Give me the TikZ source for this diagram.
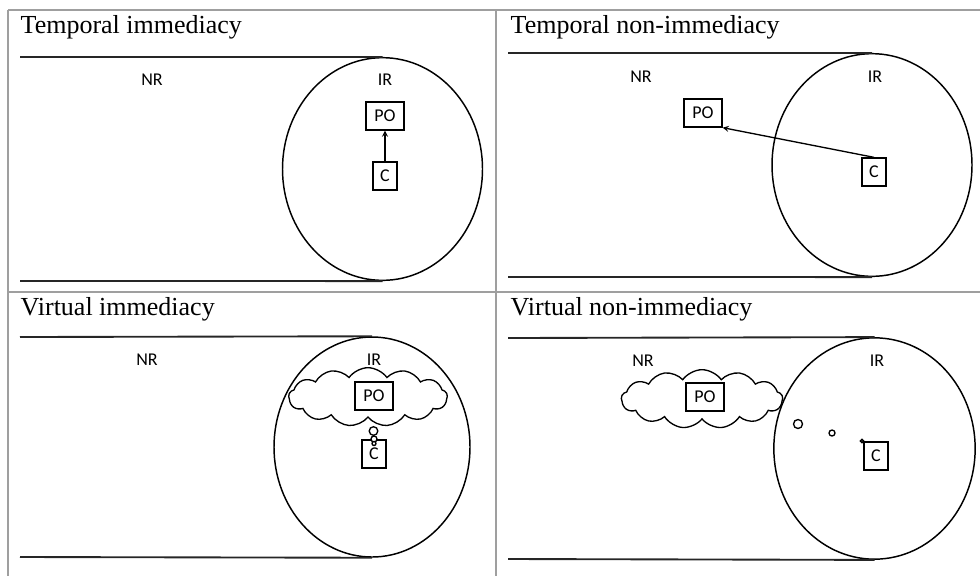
\documentclass[tikz,border=0pt]{standalone}
\usepackage{fontspec}
\setmainfont{Liberation Serif}
\newfontfamily\calib{Carlito}
\usepackage{tikz}
\usetikzlibrary{shapes.geometric,shapes.symbols}

\tikzset{
  title/.style={anchor=base west,inner sep=0pt,font=\fontsize{19.5}{22}\selectfont},
  lbl/.style={inner sep=0pt,font=\calib\fontsize{13.5}{15}\selectfont},
  pobox/.style={draw,rectangle,fill=white,inner sep=0pt,minimum width=28.5pt,minimum height=21pt,font=\calib\fontsize{13.5}{15}\selectfont},
  cbox/.style={draw,rectangle,fill=white,inner sep=0pt,minimum width=18pt,minimum height=21pt,font=\calib\fontsize{13.5}{15}\selectfont},
  irzone/.style={draw,ellipse,line width=1.1pt,inner sep=0pt,minimum width=150pt,minimum height=167pt},
  thought/.style={draw,cloud,cloud puffs=13,cloud puff arc=110,cloud ignores aspect,fill=white,inner sep=0pt,minimum width=119pt,minimum height=44pt},
  edge line/.style={line width=1.4pt,draw=black!85},
  grid/.style={draw=gray!75,line width=1pt}
}

\begin{document}
\begin{tikzpicture}[x=0.75pt,y=-0.75pt,line width=1pt,>=stealth]
\useasboundingbox (0,0) rectangle (980,576);

% table
\draw[grid] (8,10) -- (980,10);
\draw[grid] (8,10) -- (8,576);
\draw[grid] (496,10) -- (496,576);
\draw[grid] (8,292) -- (980,292);

% temporal immediacy
\node[title] at (20,33) {Temporal immediacy};
\node[irzone] (IR1) at (382.5,169) {};
\draw[edge line] (20,57) -- (IR1.north);
\draw[edge line] (20,281) -- (IR1.south);
\node[lbl] at (152,80) {NR};
\node[lbl] at (385,80) {IR};
\node[pobox] (PO1) at (385,116) {PO};
\node[cbox] (C1) at (385,176) {C};
\draw[->] (C1.north) -- (PO1.south);

% temporal non-immediacy
\node[title] at (510,33) {Temporal non-immediacy};
\node[irzone] (IR2) at (872,165) {};
\draw[edge line] (508,53) -- (IR2.north);
\draw[edge line] (508,277) -- (IR2.south);
\node[lbl] at (641,77) {NR};
\node[lbl] at (875,77) {IR};
\node[pobox] (PO2) at (703,113) {PO};
\node[cbox] (C2) at (874,172) {C};
\draw[->] (C2.north) -- (PO2.south east);

% virtual immediacy
\node[title] at (20,315) {Virtual immediacy};
\node[irzone,minimum width=147pt,minimum height=165pt] (IR3) at (372,447) {};
\draw[edge line] (20,337) -- (IR3.north);
\draw[edge line] (20,557) -- (IR3.south);
\node[lbl] at (147,360) {NR};
\node[lbl] at (374,360) {IR};
\node[thought] (TH3) at (368,397) {};
\node[pobox] (PO3) at (374,396) {PO};
\node[cbox] (C3) at (374,454) {C};
\draw[fill=white] (373.5,431) circle (4.3);
\draw[fill=white] (374,439) circle (3);
\draw[fill=white] (374,443.5) circle (2);

% virtual non-immediacy
\node[title] at (510,315) {Virtual non-immediacy};
\node[irzone,minimum width=151pt,minimum height=166pt] (IR4) at (874.5,448.5) {};
\draw[edge line] (508,338) -- (IR4.north);
\draw[edge line] (508,559) -- (IR4.south);
\node[lbl] at (643,361) {NR};
\node[lbl] at (877,361) {IR};
\node[thought,minimum width=121pt] (TH4) at (702,399) {};
\node[pobox] (PO4) at (705,397) {PO};
\node[cbox] (C4) at (876,456) {C};
\draw (798,424) circle (4.5);
\draw (832,433) circle (3);
\draw (862,441) circle (1.6);
\end{tikzpicture}
\end{document}
